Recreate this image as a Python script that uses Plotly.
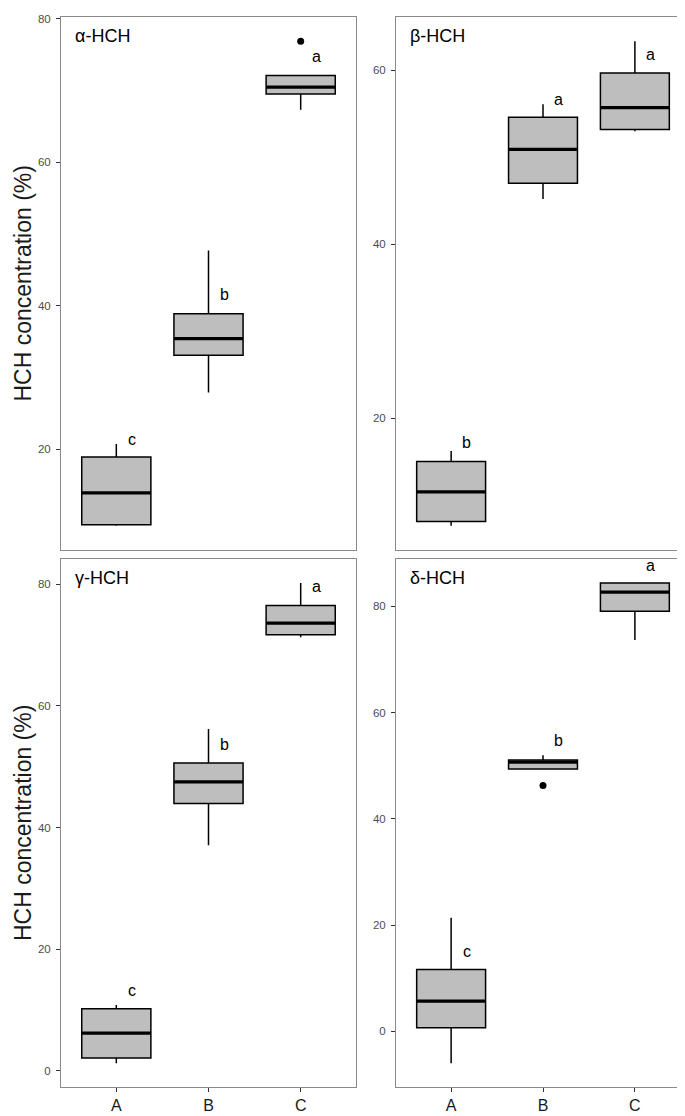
import plotly.graph_objects as go

# ---------------- data ----------------
categories = ["A", "B", "C"]
panel_titles = ["α-HCH", "β-HCH", "γ-HCH", "δ-HCH"]
y_title = "HCH concentration (%)"

# five-number summaries per panel (A, B, C)
alpha_lf = [9.3, 27.9, 67.35]
alpha_q1 = [9.45, 33.1, 69.55]
alpha_med = [13.9, 35.4, 70.5]
alpha_q3 = [18.9, 38.9, 72.1]
alpha_uf = [20.7, 47.7, 72.1]
alpha_out_x = ["C"]
alpha_out_y = [76.9]
alpha_letters = ["c", "b", "a"]
alpha_letter_y = [21.4, 41.6, 74.7]

beta_lf = [7.6, 45.2, 53.0]
beta_q1 = [8.1, 47.0, 53.2]
beta_med = [11.5, 50.9, 55.7]
beta_q3 = [15.0, 54.6, 59.7]
beta_uf = [16.2, 56.1, 63.35]
beta_out_x = []
beta_out_y = []
beta_letters = ["b", "a", "a"]
beta_letter_y = [17.2, 56.7, 61.8]

gamma_lf = [1.26, 37.1, 71.3]
gamma_q1 = [2.1, 43.95, 71.7]
gamma_med = [6.2, 47.5, 73.6]
gamma_q3 = [10.2, 50.6, 76.5]
gamma_uf = [10.8, 56.2, 80.2]
gamma_out_x = []
gamma_out_y = []
gamma_letters = ["c", "b", "a"]
gamma_letter_y = [13.2, 53.7, 79.6]

delta_lf = [-5.97, 49.4, 73.7]
delta_q1 = [0.69, 49.4, 79.1]
delta_med = [5.7, 50.7, 82.7]
delta_q3 = [11.66, 51.1, 84.4]
delta_uf = [21.4, 52.0, 84.4]
delta_out_x = ["B"]
delta_out_y = [46.3]
delta_letters = ["c", "b", "a"]
delta_letter_y = [15.1, 54.7, 87.7]

# ---------------- styling ----------------
W, H = 685, 1116
FONT = "Liberation Sans, Arial, sans-serif"
BOX_W = 0.75
FILL = "#BEBEBE"
FRAME = "#8A8A8A"

xdom_left = [53 / W, 348 / W]
xdom_right = [388 / W, 682 / W]
ydom_top = [1 - 540 / H, 1 - 5 / H]
ydom_bot = [1 - 1079 / H, 1 - 549 / H]

panels = [
    dict(lf=alpha_lf, q1=alpha_q1, med=alpha_med, q3=alpha_q3, uf=alpha_uf,
         ox=alpha_out_x, oy=alpha_out_y, let=alpha_letters, ly=alpha_letter_y,
         xd=xdom_left, yd=ydom_top, bottom=False),
    dict(lf=beta_lf, q1=beta_q1, med=beta_med, q3=beta_q3, uf=beta_uf,
         ox=beta_out_x, oy=beta_out_y, let=beta_letters, ly=beta_letter_y,
         xd=xdom_right, yd=ydom_top, bottom=False),
    dict(lf=gamma_lf, q1=gamma_q1, med=gamma_med, q3=gamma_q3, uf=gamma_uf,
         ox=gamma_out_x, oy=gamma_out_y, let=gamma_letters, ly=gamma_letter_y,
         xd=xdom_left, yd=ydom_bot, bottom=True),
    dict(lf=delta_lf, q1=delta_q1, med=delta_med, q3=delta_q3, uf=delta_uf,
         ox=delta_out_x, oy=delta_out_y, let=delta_letters, ly=delta_letter_y,
         xd=xdom_right, yd=ydom_bot, bottom=True),
]

pos = {c: i + 1 for i, c in enumerate(categories)}
xs = [pos[c] for c in categories]

fig = go.Figure()
annotations = []
layout_axes = {}

for i, p in enumerate(panels):
    n = "" if i == 0 else str(i + 1)
    xa, ya = "x" + n, "y" + n
    fig.add_trace(go.Box(
        x=xs, q1=p["q1"], median=p["med"], q3=p["q3"],
        lowerfence=p["lf"], upperfence=p["uf"],
        width=BOX_W, fillcolor=FILL, line=dict(color="black", width=1.5),
        whiskerwidth=0, boxpoints=False, xaxis=xa, yaxis=ya,
        showlegend=False, hoverinfo="skip"))
    # thicker median (ggplot fatten)
    mx, my = [], []
    for x, m in zip(xs, p["med"]):
        mx += [x - BOX_W / 2, x + BOX_W / 2, None]
        my += [m, m, None]
    fig.add_trace(go.Scatter(x=mx, y=my, mode="lines",
                             line=dict(color="black", width=3.2),
                             xaxis=xa, yaxis=ya, showlegend=False, hoverinfo="skip"))
    if p["ox"]:
        fig.add_trace(go.Scatter(x=[pos[c] for c in p["ox"]], y=p["oy"], mode="markers",
                                 marker=dict(color="black", size=7),
                                 xaxis=xa, yaxis=ya, showlegend=False, hoverinfo="skip"))
    # letters
    for x, t, y in zip(xs, p["let"], p["ly"]):
        annotations.append(dict(x=x + 0.17, y=y, xref=xa, yref=ya, text=t,
                                showarrow=False, xanchor="center", yanchor="middle",
                                font=dict(family=FONT, size=16, color="black")))
    # panel title
    annotations.append(dict(x=0.041, y=1 - 19 / 535, xref=xa + " domain", yref=ya + " domain",
                            text=panel_titles[i], showarrow=False, xanchor="left",
                            yanchor="middle", font=dict(family=FONT, size=18, color="black")))
    # ggplot-like range expansion
    vals = p["lf"] + p["uf"] + p["oy"]
    lo, hi = min(vals), max(vals)
    pad = 0.05 * (hi - lo)
    layout_axes["xaxis" + n] = dict(
        domain=p["xd"], anchor=ya, range=[0.4, 3.6], type="linear",
        tickvals=xs, ticktext=categories, showticklabels=p["bottom"],
        ticks="outside" if p["bottom"] else "", ticklen=4, tickwidth=1, tickcolor="#333333",
        tickfont=dict(family=FONT, size=16, color="#1A1A1A"), ticklabelstandoff=0,
        showgrid=False, zeroline=False, showline=True, mirror=True,
        linecolor=FRAME, linewidth=1)
    layout_axes["yaxis" + n] = dict(
        domain=p["yd"], anchor=xa, range=[lo - pad, hi + pad],
        tick0=0, dtick=20, ticks="outside", ticklen=4, tickwidth=1, tickcolor="#333333",
        tickfont=dict(family=FONT, size=11.5, color="#4D4D4D"), ticklabelstandoff=3,
        showgrid=False, zeroline=False, showline=True, mirror=True,
        linecolor=FRAME, linewidth=1)

for yd in (ydom_top, ydom_bot):
    annotations.append(dict(x=15 / W, y=(yd[0] + yd[1]) / 2, xref="paper", yref="paper",
                            text=y_title, textangle=-90, showarrow=False,
                            xanchor="center", yanchor="middle",
                            font=dict(family=FONT, size=23, color="#1A1A1A")))

fig.update_layout(
    width=W, height=H, margin=dict(l=0, r=0, t=0, b=0),
    paper_bgcolor="white", plot_bgcolor="white",
    annotations=annotations, **layout_axes)

fig.write_html("out.html")
